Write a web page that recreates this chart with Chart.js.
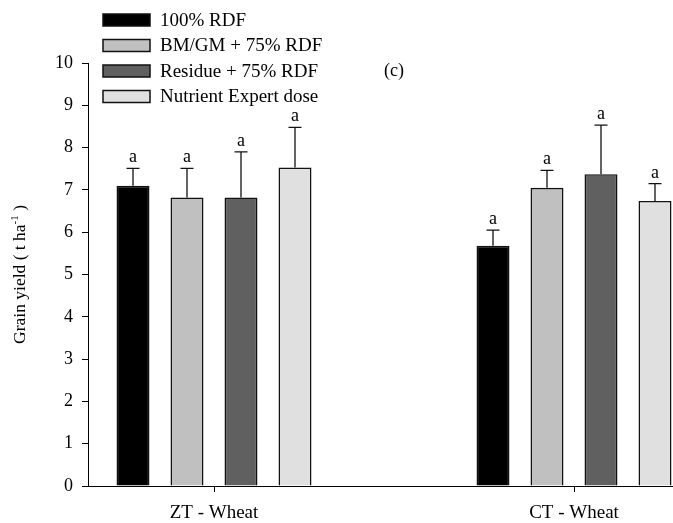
<!DOCTYPE html>
<html>
<head>
<meta charset="utf-8">
<style>
  html, body { margin: 0; padding: 0; background: #ffffff; }
  #wrap { width: 673px; height: 523px; position: relative; }
</style>
<script src="https://cdn.jsdelivr.net/npm/chart.js@4/dist/chart.umd.min.js"></script>
</head>
<body>
<div id="wrap"><canvas id="c"></canvas></div>
<script>
// ---- data ----
const categories = ['ZT - Wheat', 'CT - Wheat'];
const seriesNames = ['100% RDF', 'BM/GM + 75% RDF', 'Residue + 75% RDF', 'Nutrient Expert dose'];
const rdf100 = [7.10, 5.68];
const bmgmRdf75 = [6.82, 7.05];
const residueRdf75 = [6.82, 7.37];
const nutrientExpert = [7.53, 6.74];
const rdf100Err = [0.41, 0.37];
const bmgmRdf75Err = [0.69, 0.41];
const residueRdf75Err = [1.08, 1.16];
const nutrientExpertErr = [0.95, 0.41];
const rdf100Letters = ['a', 'a'];
const bmgmRdf75Letters = ['a', 'a'];
const residueRdf75Letters = ['a', 'a'];
const nutrientExpertLetters = ['a', 'a'];
const yTickValues = [0, 1, 2, 3, 4, 5, 6, 7, 8, 9, 10];
const panelLabel = '(c)';
const yTitleMain = 'Grain yield ( t ha';
const yTitleSup = '-1';
const yTitleEnd = ' )';

// ---- styling ----
const FONT = '"Liberation Serif", "Times New Roman", serif';
const fills = ['#000000', '#c0c0c0', '#606060', '#e0e0e0'];
const seriesValues = [rdf100, bmgmRdf75, residueRdf75, nutrientExpert];
const seriesErrors = [rdf100Err, bmgmRdf75Err, residueRdf75Err, nutrientExpertErr];
const seriesLetters = [rdf100Letters, bmgmRdf75Letters, residueRdf75Letters, nutrientExpertLetters];

const datasets = seriesNames.map((name, d) => ({
  label: name,
  data: seriesValues[d].map((v, i) => ({ x: i + 1, y: v })),
  backgroundColor: fills[d],
  borderColor: '#111111',
  borderWidth: 1.6,
  borderSkipped: 'bottom',
  categoryPercentage: 0.6,
  barPercentage: 0.611
}));

const errorBarPlugin = {
  id: 'errorBars',
  afterDatasetsDraw(chart) {
    const ctx = chart.ctx;
    const y = chart.scales.y;
    ctx.save();
    ctx.strokeStyle = '#111111';
    ctx.lineWidth = 1.3;
    ctx.fillStyle = '#000000';
    ctx.font = '18px ' + FONT;
    ctx.textAlign = 'center';
    ctx.textBaseline = 'alphabetic';
    seriesValues.forEach((vals, d) => {
      const meta = chart.getDatasetMeta(d);
      meta.data.forEach((bar, i) => {
        const v = vals[i];
        const e = seriesErrors[d][i];
        const yBar = y.getPixelForValue(v);
        const yTop = y.getPixelForValue(v + e);
        ctx.beginPath();
        ctx.moveTo(bar.x, yBar);
        ctx.lineTo(bar.x, yTop);
        ctx.moveTo(bar.x - 6.5, yTop);
        ctx.lineTo(bar.x + 6.5, yTop);
        ctx.stroke();
        ctx.fillText(seriesLetters[d][i], bar.x, yTop - 6);
      });
    });
    ctx.restore();
  }
};

const decorPlugin = {
  id: 'decor',
  afterDraw(chart) {
    const ctx = chart.ctx;
    const area = chart.chartArea;
    ctx.save();
    // legend
    ctx.font = '19px ' + FONT;
    ctx.textAlign = 'left';
    ctx.textBaseline = 'middle';
    seriesNames.forEach((name, d) => {
      const cy = 20 + d * 25.5;
      ctx.fillStyle = fills[d];
      ctx.fillRect(103, cy - 6, 47, 12);
      ctx.strokeStyle = '#111111';
      ctx.lineWidth = 1.5;
      ctx.strokeRect(103, cy - 6, 47, 12);
      ctx.fillStyle = '#000000';
      ctx.fillText(name, 160, cy + 1);
    });
    // panel label
    ctx.font = '18px ' + FONT;
    ctx.textAlign = 'center';
    ctx.fillText(panelLabel, 394, 71);
    // y axis title with superscript
    const cy = (area.top + area.bottom) / 2;
    ctx.translate(19, cy);
    ctx.rotate(-Math.PI / 2);
    const mainFont = '17.5px ' + FONT;
    const supFont = '11px ' + FONT;
    ctx.font = mainFont;
    const w1 = ctx.measureText(yTitleMain).width;
    const w3 = ctx.measureText(yTitleEnd).width;
    ctx.font = supFont;
    const w2 = ctx.measureText(yTitleSup).width;
    const total = w1 + w2 + w3;
    let x = -total / 2;
    ctx.textAlign = 'left';
    ctx.textBaseline = 'alphabetic';
    ctx.font = mainFont;
    ctx.fillText(yTitleMain, x, 6);
    x += w1;
    ctx.font = supFont;
    ctx.fillText(yTitleSup, x, -1);
    x += w2;
    ctx.font = mainFont;
    ctx.fillText(yTitleEnd, x, 6);
    ctx.restore();
  }
};

new Chart(document.getElementById('c'), {
  type: 'bar',
  data: { datasets },
  options: {
    responsive: true,
    maintainAspectRatio: false,
    devicePixelRatio: 1,
    animation: false,
    layout: { padding: { top: 63, left: 0, right: 0, bottom: 0 } },
    plugins: { legend: { display: false }, tooltip: { enabled: false }, title: { display: false } },
    scales: {
      x: {
        type: 'linear',
        offset: false,
        min: 0.65,
        max: 2.275,
        afterBuildTicks(scale) { scale.ticks = categories.map((c, i) => ({ value: i + 1 })); },
        afterFit(scale) { scale.height = 37; },
        ticks: {
          color: '#000000',
          font: { family: FONT, size: 19 },
          padding: 10,
          maxRotation: 0,
          autoSkip: false,
          callback: (v) => categories[Math.round(v) - 1] || ''
        },
        grid: { offset: false, drawOnChartArea: false, drawTicks: true, tickLength: 6, color: '#000000', lineWidth: 1 },
        border: { display: true, color: '#000000', width: 1 }
      },
      y: {
        min: 0,
        max: 10,
        afterBuildTicks(scale) { scale.ticks = yTickValues.map(v => ({ value: v })); },
        afterFit(scale) { scale.width = 88; },
        ticks: { color: '#000000', font: { family: FONT, size: 18 }, padding: 9 },
        grid: { drawOnChartArea: false, drawTicks: true, tickLength: 6, color: '#000000', lineWidth: 1 },
        border: { display: true, color: '#000000', width: 1 }
      }
    }
  },
  plugins: [errorBarPlugin, decorPlugin]
});
</script>
</body>
</html>
